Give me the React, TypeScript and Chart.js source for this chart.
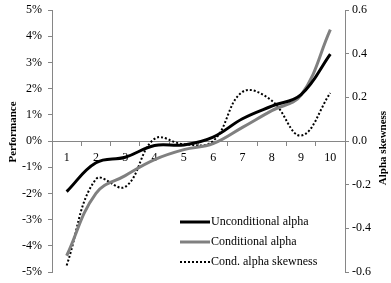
import React, { useEffect, useRef } from "react";
import { Chart, registerables } from "chart.js";

Chart.register(...registerables);

const categories = ["1", "2", "3", "4", "5", "6", "7", "8", "9", "10"];
const unconditionalAlpha = [-1.93, -0.83, -0.62, -0.17, -0.15, 0.15, 0.85, 1.33, 1.77, 3.32];
const conditionalAlpha = [-4.38, -2.0, -1.32, -0.71, -0.33, -0.1, 0.52, 1.16, 1.75, 4.25];
const condAlphaSkewness = [-0.57, -0.175, -0.21, 0.01, -0.015, 0.0, 0.225, 0.185, 0.025, 0.22];
const seriesLabels = ["Unconditional alpha", "Conditional alpha", "Cond. alpha skewness"];
const leftTitle = "Performance";
const rightTitle = "Alpha skewness";

const FONT = '"Liberation Serif", "Times New Roman", serif';
const AXIS_COLOR = "#868686";
const GRAY = "#808080";

export default function App() {
  const ref = useRef<HTMLCanvasElement | null>(null);

  useEffect(() => {
    document.body.style.margin = "0";
    const canvas = ref.current;
    if (!canvas) return;

    const overlay = {
      id: "overlay",
      afterDraw(chart: any) {
        const ctx = chart.ctx;
        ctx.save();
        ctx.fillStyle = "#000";
        ctx.font = `bold 11px ${FONT}`;
        ctx.textAlign = "center";
        ctx.textBaseline = "middle";
        ctx.save();
        ctx.translate(13, 132);
        ctx.rotate(-Math.PI / 2);
        ctx.fillText(leftTitle, 0, 0);
        ctx.restore();
        ctx.save();
        ctx.translate(383, 148);
        ctx.rotate(-Math.PI / 2);
        ctx.fillText(rightTitle, 0, 0);
        ctx.restore();

        const rows = [222, 242, 262];
        chart.data.datasets.forEach((ds: any, i: number) => {
          const y = rows[i];
          ctx.save();
          ctx.strokeStyle = ds.borderColor;
          ctx.lineWidth = ds.borderWidth;
          ctx.setLineDash(ds.borderDash || []);
          ctx.beginPath();
          ctx.moveTo(180, y);
          ctx.lineTo(210, y);
          ctx.stroke();
          ctx.restore();
          ctx.fillStyle = "#000";
          ctx.font = `12px ${FONT}`;
          ctx.textAlign = "left";
          ctx.textBaseline = "middle";
          ctx.fillText(ds.label, 211, y);
        });
        ctx.restore();
      },
    };

    const noPad = (s: any, w: number) => {
      s.width = w;
      s.paddingTop = 0;
      s.paddingBottom = 0;
    };

    const chart = new Chart(canvas, {
      type: "line",
      data: {
        labels: categories,
        datasets: [
          {
            label: seriesLabels[0],
            data: unconditionalAlpha,
            borderColor: "#000000",
            borderWidth: 3,
            pointRadius: 0,
            tension: 0.4,
            yAxisID: "y",
          },
          {
            label: seriesLabels[1],
            data: conditionalAlpha,
            borderColor: GRAY,
            borderWidth: 3,
            pointRadius: 0,
            tension: 0.4,
            yAxisID: "y",
          },
          {
            label: seriesLabels[2],
            data: condAlphaSkewness,
            borderColor: "#000000",
            borderWidth: 2,
            borderDash: [2, 2],
            pointRadius: 0,
            tension: 0.4,
            yAxisID: "y1",
          },
        ],
      },
      options: {
        animation: false,
        responsive: false,
        layout: { padding: { top: 10, bottom: 11, left: 0, right: 0 } },
        plugins: {
          legend: { display: false },
          tooltip: { enabled: false },
        },
        scales: {
          x: {
            position: { y: 0 } as any,
            offset: true,
            grid: {
              display: true,
              offset: true,
              drawOnChartArea: false,
              drawTicks: true,
              tickLength: 4,
              color: AXIS_COLOR,
            },
            border: { display: true, color: AXIS_COLOR, width: 1 },
            ticks: {
              color: "#000",
              font: { family: FONT, size: 12 },
              padding: 6,
              maxRotation: 0,
              autoSkip: false,
            },
          },
          y: {
            position: "left",
            min: -5,
            max: 5,
            afterFit: (s: any) => noPad(s, 52),
            ticks: {
              stepSize: 1,
              color: "#000",
              font: { family: FONT, size: 12 },
              padding: 6,
              callback: (v: any) => `${Math.round(Number(v))}%`,
            },
            grid: {
              display: true,
              drawOnChartArea: false,
              tickLength: 4,
              color: AXIS_COLOR,
            },
            border: { display: true, color: AXIS_COLOR, width: 1 },
          },
          y1: {
            position: "right",
            min: -0.6,
            max: 0.6,
            afterFit: (s: any) => noPad(s, 46),
            ticks: {
              stepSize: 0.2,
              color: "#000",
              font: { family: FONT, size: 12 },
              padding: 3,
              callback: (v: any) => Number(v).toFixed(1),
            },
            grid: {
              display: true,
              drawOnChartArea: false,
              tickLength: 4,
              color: AXIS_COLOR,
            },
            border: { display: true, color: AXIS_COLOR, width: 1 },
          },
        },
      },
      plugins: [overlay],
    });

    return () => chart.destroy();
  }, []);

  return (
    <div style={{ width: 391, height: 283 }}>
      <canvas ref={ref} width={391} height={283} style={{ display: "block" }} />
    </div>
  );
}
